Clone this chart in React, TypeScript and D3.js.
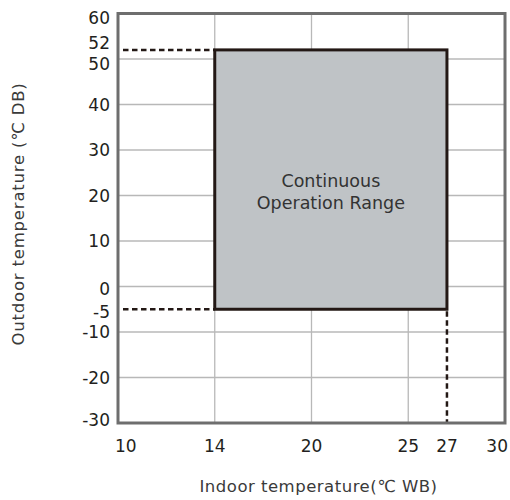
import React, { useEffect, useRef } from "react";
import * as d3 from "d3";

// x axis stops (indoor WB), drawn evenly spaced between stops
const xStops = [10, 14, 20, 25, 30];
const xTickLabels = [10, 14, 20, 25, 27, 30];
const xGrid = [14, 20, 25];

// y axis (outdoor DB)
const yTickLabels = [60, 52, 50, 40, 30, 20, 10, 0, -5, -10, -20, -30];
const yGrid = [50, 40, 30, 20, 10, 0, -10, -20];

// operating range
const rangeX = [14, 27];
const rangeY = [-5, 52];
const rangeText = ["Continuous", "Operation Range"];

const FONT = "'DejaVu Sans', 'Noto Sans CJK KR', sans-serif";

export default function App() {
  const svgRef = useRef<SVGSVGElement>(null);

  useEffect(() => {
    if (!svgRef.current) return;
    const svg = d3.select(svgRef.current);
    svg.selectAll("*").remove();

    const left = 118;
    const right = 505;
    const top = 13.5;
    const bottom = 423;
    const step = (right - left) / (xStops.length - 1);

    const x = d3
      .scaleLinear()
      .domain(xStops)
      .range(xStops.map((_, i) => left + i * step));
    const y = d3.scaleLinear().domain([-30, 60]).range([bottom, top]);

    // gridlines
    svg
      .append("g")
      .selectAll("line")
      .data(yGrid)
      .join("line")
      .attr("x1", left)
      .attr("x2", right)
      .attr("y1", (d) => y(d))
      .attr("y2", (d) => y(d))
      .attr("stroke", "#b8b8b8")
      .attr("stroke-width", 1.3);

    svg
      .append("g")
      .selectAll("line")
      .data(xGrid)
      .join("line")
      .attr("x1", (d) => x(d))
      .attr("x2", (d) => x(d))
      .attr("y1", top)
      .attr("y2", bottom)
      .attr("stroke", "#b8b8b8")
      .attr("stroke-width", 1.3);

    // range box
    svg
      .append("rect")
      .attr("x", x(rangeX[0]))
      .attr("y", y(rangeY[1]))
      .attr("width", x(rangeX[1]) - x(rangeX[0]))
      .attr("height", y(rangeY[0]) - y(rangeY[1]))
      .attr("fill", "#bfc3c6")
      .attr("stroke", "#231815")
      .attr("stroke-width", 3);

    // dashed guide lines
    const dash = svg
      .append("g")
      .attr("stroke", "#231815")
      .attr("stroke-width", 2.5)
      .attr("stroke-dasharray", "5.5,3.5");
    rangeY.forEach((v) => {
      dash
        .append("line")
        .attr("x1", left + 5)
        .attr("x2", x(rangeX[0]))
        .attr("y1", y(v))
        .attr("y2", y(v));
    });
    dash
      .append("line")
      .attr("x1", x(rangeX[1]))
      .attr("x2", x(rangeX[1]))
      .attr("y1", y(rangeY[0]) + 2)
      .attr("y2", bottom);

    // frame
    svg
      .append("rect")
      .attr("x", left)
      .attr("y", top)
      .attr("width", right - left)
      .attr("height", bottom - top)
      .attr("fill", "none")
      .attr("stroke", "#6e6e6e")
      .attr("stroke-width", 3);

    // y tick labels (a few nudged apart like the original)
    const yNudge: Record<number, number> = { 60: 4, 52: -7, 50: 5, 0: 2, "-5": 3, "-30": -3 };
    svg
      .append("g")
      .selectAll("text")
      .data(yTickLabels)
      .join("text")
      .attr("x", 110)
      .attr("y", (d) => y(d) + 6 + (yNudge[d] || 0))
      .attr("text-anchor", "end")
      .attr("font-family", FONT)
      .attr("font-size", 17)
      .attr("fill", "#231f20")
      .text((d) => d);

    // x tick labels
    const last = xTickLabels.length - 1;
    svg
      .append("g")
      .selectAll("text")
      .data(xTickLabels)
      .join("text")
      .attr("x", (d, i) => (i === 0 ? x(d) - 3 : i === last ? x(d) + 3 : x(d)))
      .attr("y", 452)
      .attr("text-anchor", (d, i) => (i === 0 ? "start" : i === last ? "end" : "middle"))
      .attr("font-family", FONT)
      .attr("font-size", 17)
      .attr("fill", "#231f20")
      .text((d) => d);

    // text inside the box
    const cx = (x(rangeX[0]) + x(rangeX[1])) / 2;
    svg
      .append("g")
      .selectAll("text")
      .data(rangeText)
      .join("text")
      .attr("x", cx)
      .attr("y", (d, i) => 187 + i * 22)
      .attr("text-anchor", "middle")
      .attr("font-family", FONT)
      .attr("font-size", 17.5)
      .attr("fill", "#333")
      .text((d) => d);

    // axis titles
    svg
      .append("text")
      .attr("x", (left + right) / 2 + 7)
      .attr("y", 492)
      .attr("text-anchor", "middle")
      .attr("font-family", FONT)
      .attr("font-size", 16.5)
      .attr("letter-spacing", 0.5)
      .attr("fill", "#3a3a3a")
      .text("Indoor temperature(℃ WB)");

    svg
      .append("text")
      .attr("transform", "translate(24,214) rotate(-90)")
      .attr("text-anchor", "middle")
      .attr("font-family", FONT)
      .attr("font-size", 16.5)
      .attr("letter-spacing", 0.8)
      .attr("fill", "#3a3a3a")
      .text("Outdoor temperature (℃ DB)");
  }, []);

  return (
    <svg
      ref={svgRef}
      width={510}
      height={500}
      style={{ position: "absolute", left: 0, top: 0, background: "#fff" }}
    />
  );
}
